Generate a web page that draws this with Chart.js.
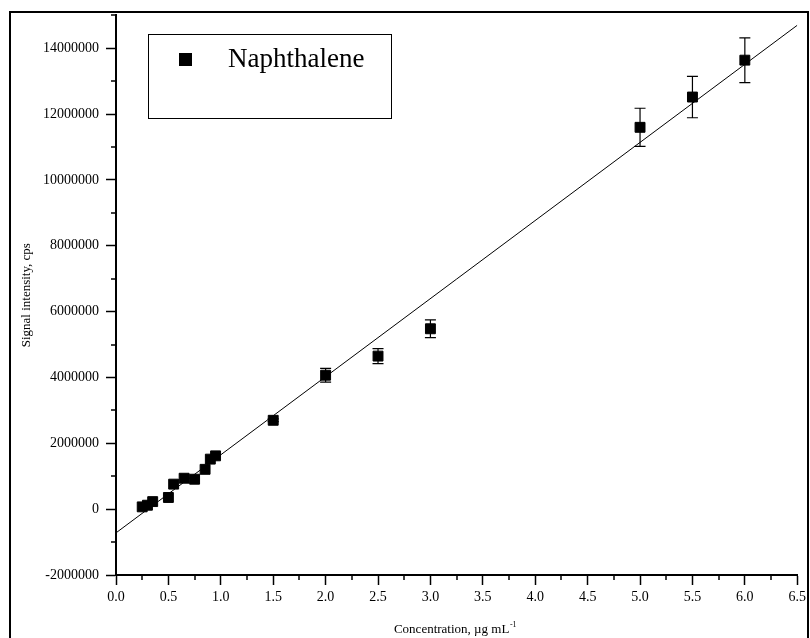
<!DOCTYPE html>
<html><head><meta charset="utf-8">
<script src="https://cdn.jsdelivr.net/npm/chart.js@4"></script>
<style>html,body{margin:0;padding:0;background:#fff}canvas{display:block}</style>
</head><body>
<canvas id="c" width="810" height="638"></canvas>
<script>
const seriesName = 'Naphthalene';
const concentration = [0.25, 0.3, 0.35, 0.5, 0.55, 0.65, 0.75, 0.85, 0.9, 0.95, 1.5, 2.0, 2.5, 3.0, 5.0, 5.5, 6.0];
const signal = [70000, 120000, 230000, 355000, 760000, 940000, 910000, 1210000, 1520000, 1620000, 2700000, 4070000, 4650000, 5480000, 11600000, 12520000, 13640000];
const signalError = [0, 0, 0, 0, 0, 0, 0, 0, 0, 0, 40000, 210000, 230000, 270000, 580000, 630000, 680000];
const fitX = [0, 6.5];
const fitY = [-720000, 14700000];
const xTickValues = [0, 0.5, 1.0, 1.5, 2.0, 2.5, 3.0, 3.5, 4.0, 4.5, 5.0, 5.5, 6.0, 6.5];
const xMinorValues = [0.25, 0.75, 1.25, 1.75, 2.25, 2.75, 3.25, 3.75, 4.25, 4.75, 5.25, 5.75, 6.25];
const yTickValues = [-2000000, 0, 2000000, 4000000, 6000000, 8000000, 10000000, 12000000, 14000000];
const yMinorValues = [-1000000, 1000000, 3000000, 5000000, 7000000, 9000000, 11000000, 13000000, 15000000];
const xTitleMain = 'Concentration, \u00b5g mL';
const xTitleSup = '-1';
const yTitle = 'Signal intensity, cps';

const FONT = '"Liberation Serif", "Times New Roman", serif';

const decor = {
  id: 'decor',
  beforeDraw(chart) {
    const ctx = chart.ctx;
    ctx.save();
    ctx.fillStyle = '#fff';
    ctx.fillRect(0, 0, chart.width, chart.height);
    ctx.strokeStyle = '#000';
    ctx.lineWidth = 2;
    ctx.strokeRect(10, 12, 798, 700);
    ctx.restore();
  },
  afterDatasetsDraw(chart) {
    const ctx = chart.ctx, xs = chart.scales.x, ys = chart.scales.y;
    ctx.save();
    ctx.strokeStyle = '#000';
    ctx.lineWidth = 1.2;
    for (let i = 0; i < concentration.length; i++) {
      const e = signalError[i];
      if (!e) continue;
      const px = xs.getPixelForValue(concentration[i]);
      const t = ys.getPixelForValue(signal[i] + e);
      const b = ys.getPixelForValue(signal[i] - e);
      ctx.beginPath();
      ctx.moveTo(px, t); ctx.lineTo(px, b);
      ctx.moveTo(px - 5.5, t); ctx.lineTo(px + 5.5, t);
      ctx.moveTo(px - 5.5, b); ctx.lineTo(px + 5.5, b);
      ctx.stroke();
    }
    ctx.restore();
  },
  afterDraw(chart) {
    const ctx = chart.ctx, xs = chart.scales.x, ys = chart.scales.y, ca = chart.chartArea;
    ctx.save();
    ctx.strokeStyle = '#000';
    ctx.lineWidth = 1.5;
    ctx.beginPath();
    yMinorValues.forEach(v => { const p = Math.round(ys.getPixelForValue(v)); ctx.moveTo(ca.left - 5, p); ctx.lineTo(ca.left, p); });
    xMinorValues.forEach(v => { const p = Math.round(xs.getPixelForValue(v)); ctx.moveTo(p, ca.bottom); ctx.lineTo(p, ca.bottom + 5); });
    ctx.stroke();

    // legend
    ctx.lineWidth = 1;
    ctx.strokeRect(148.5, 34.5, 243, 84);
    ctx.fillStyle = '#000';
    ctx.fillRect(179, 53, 13, 13);
    ctx.font = '27px ' + FONT;
    ctx.textBaseline = 'alphabetic';
    ctx.textAlign = 'left';
    ctx.fillText(chart.data.datasets[0].label, 228, 67);

    // x title
    ctx.font = '13px ' + FONT;
    const w1 = ctx.measureText(xTitleMain).width;
    ctx.font = '8px ' + FONT;
    const w2 = ctx.measureText(xTitleSup).width;
    const start = 455 - (w1 + w2) / 2;
    ctx.font = '13px ' + FONT;
    ctx.fillText(xTitleMain, start, 633);
    ctx.font = '8px ' + FONT;
    ctx.fillText(xTitleSup, start + w1 + 0.5, 627);
    ctx.restore();
  }
};

new Chart(document.getElementById('c'), {
  type: 'scatter',
  data: {
    datasets: [
      {
        label: seriesName,
        data: concentration.map((x, i) => ({x, y: signal[i]})),
        pointStyle: 'rect',
        pointRadius: 7,
        backgroundColor: '#000',
        borderColor: '#000',
        borderWidth: 1,
        order: 1
      },
      {
        label: 'fit',
        data: fitX.map((x, i) => ({x, y: fitY[i]})),
        showLine: true,
        pointRadius: 0,
        borderColor: '#000',
        borderWidth: 1,
        fill: false,
        order: 2
      }
    ]
  },
  options: {
    responsive: false,
    animation: false,
    devicePixelRatio: 1,
    layout: { padding: { top: 15, right: 10, left: 0, bottom: 0 } },
    plugins: { legend: { display: false }, tooltip: { enabled: false } },
    scales: {
      x: {
        type: 'linear', min: 0, max: 6.5,
        afterBuildTicks: s => { s.ticks = xTickValues.map(v => ({value: v})); },
        afterFit: s => { s.height = 63; },
        ticks: { autoSkip: false, maxRotation: 0, color: '#000', font: { family: FONT, size: 14 }, padding: 4,
          callback: v => Number(v).toFixed(1) },
        grid: { drawOnChartArea: false, drawTicks: true, tickLength: 10, tickWidth: 1.5, tickColor: '#000' },
        border: { display: true, color: '#000', width: 2 },
        title: { display: false }
      },
      y: {
        type: 'linear', min: -2000000, max: 15000000,
        afterBuildTicks: s => { s.ticks = yTickValues.map(v => ({value: v})); },
        afterFit: s => { s.width = 116; },
        ticks: { autoSkip: false, color: '#000', font: { family: FONT, size: 14 }, padding: 7,
          callback: v => String(v) },
        grid: { drawOnChartArea: false, drawTicks: true, tickLength: 10, tickWidth: 1.5, tickColor: '#000' },
        border: { display: true, color: '#000', width: 2 },
        title: { display: true, text: yTitle, color: '#000', font: { family: FONT, size: 13 }, padding: { top: 19, bottom: 0 } }
      }
    }
  },
  plugins: [decor]
});
</script>
</body></html>
